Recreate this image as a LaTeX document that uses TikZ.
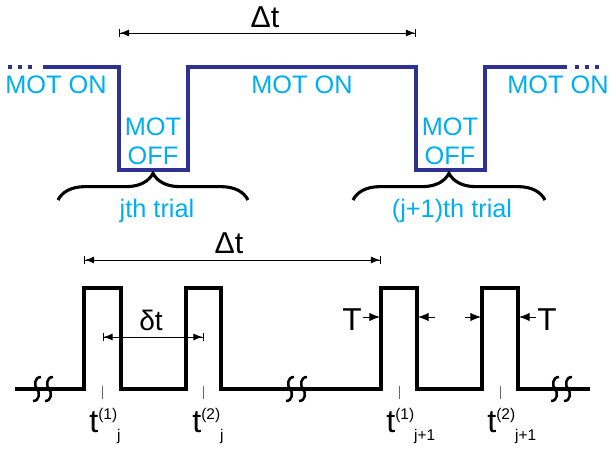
\documentclass[tikz,border=0pt]{standalone}
\usepackage{fontspec}
\setmainfont{Liberation Sans}
\usetikzlibrary{arrows.meta,decorations.pathreplacing}
\definecolor{motblue}{RGB}{46,49,146}
\definecolor{motcyan}{RGB}{0,174,239}
\newcommand{\supfont}{\fontsize{11}{13}\selectfont}
\tikzset{
  motline/.style={motblue,line width=2.2pt},
  motdots/.style={motblue,line width=2.2pt,dash pattern=on 2.8pt off 4.3pt},
  pulse/.style={black,line width=2.2pt},
  motlab/.style={text=motcyan,font=\fontsize{18}{20.6}\selectfont,inner sep=0pt,align=center},
  dimlab/.style={font=\fontsize{21.5}{24}\selectfont,inner sep=0pt,anchor=base},
  tlab/.style={font=\fontsize{23}{26}\selectfont,inner sep=0pt,anchor=base west},
  dimarr/.style={{Bar[width=6pt]Latex[length=6.5pt,width=5pt]}-{Latex[length=6.5pt,width=5pt]Bar[width=6pt]},line width=0.7pt},
  tarr/.style={-{Latex[length=7.5pt,width=6pt]},line width=0.7pt},
  trialbrace/.style={decorate,decoration={brace,amplitude=19pt},line width=2.2pt},
  tick/.style={black!60,line width=0.5pt},
  brk/.pic={\draw[line width=1.8pt] (4,-12) .. controls (-3,-12) and (-3,-3) .. (0,0)
    .. controls (3,3) and (3,12) .. (-4,12);}
}
\begin{document}
\begin{tikzpicture}[x=0.025cm,y=-0.025cm]
  \useasboundingbox (0,0) rectangle (611,448);
  % MOT on/off sequence
  \draw[motdots] (8,67) -- (37,67);
  \draw[motline] (43,67) -- (119,67) -- (119,170) -- (188,170) -- (188,67)
    -- (416,67) -- (416,170) -- (485,170) -- (485,67) -- (567,67);
  \draw[motdots] (575,67) -- (604,67);
  \node[motlab,anchor=base] (onA) at (56,93) {MOT ON};
  \node[motlab,anchor=base] (onB) at (302,93) {MOT ON};
  \node[motlab,anchor=base] (onC) at (558,93) {MOT ON};
  \node[motlab,anchor=north] (offA) at (153,118) {MOT\\OFF};
  \node[motlab,anchor=north] (offB) at (450,118) {MOT\\OFF};
  \draw[trialbrace] (58,200) -- (248,200);
  \draw[trialbrace] (353,200) -- (545,200);
  \node[motlab,anchor=base] (trialA) at (157,217) {jth trial};
  \node[motlab,anchor=base] (trialB) at (452,217) {(j+1)th trial};
  \coordinate (cycA) at (119,33);
  \coordinate (cycB) at (416,33);
  \draw[dimarr] (cycA) -- (cycB);
  \node[dimlab] (cycLab) at (265,27) {Δt};
  % pulse pairs
  \draw[pulse] (15,389) -- (84,389) -- (84,288) -- (121,288) -- (121,389)
    -- (186,389) -- (186,288) -- (221,288) -- (221,389) -- (381,389)
    -- (381,288) -- (417,288) -- (417,389) -- (482,389) -- (482,288)
    -- (518,288) -- (518,389) -- (590,389);
  \foreach \x in {37,49,290,303,555,568}
    \pic at (\x,389) {brk};
  \foreach \x in {102.5,203.5,399,500}
    \draw[tick] (\x,386) -- (\x,399);
  \coordinate (perA) at (84,260);
  \coordinate (perB) at (381,260);
  \draw[dimarr] (perA) -- (perB);
  \node[dimlab] (perLab) at (229,253) {Δt};
  \coordinate (pairA) at (102.5,337);
  \coordinate (pairB) at (203.5,337);
  \draw[dimarr] (pairA) -- (pairB);
  \node[dimlab,font=\fontsize{20}{22}\selectfont] (pairLab) at (151,330) {δt};
  % pulse widths
  \coordinate (wA1) at (363,317); \coordinate (wA2) at (380,317);
  \coordinate (wB1) at (435,317); \coordinate (wB2) at (418,317);
  \coordinate (wC1) at (465,317); \coordinate (wC2) at (481,317);
  \coordinate (wD1) at (536,317); \coordinate (wD2) at (519,317);
  \draw[tarr] (wA1) -- (wA2);
  \draw[tarr] (wB1) -- (wB2);
  \draw[tarr] (wC1) -- (wC2);
  \draw[tarr] (wD1) -- (wD2);
  \node[tlab,font=\fontsize{22.5}{26}\selectfont] (widA) at (342,330) {T};
  \node[tlab,font=\fontsize{22.5}{26}\selectfont] (widB) at (537,330) {T};
  \node[tlab] (tjA) at (89,432) {t\raisebox{9pt}{\supfont(1)}\raisebox{-6pt}{\supfont j}};
  \node[tlab] (tjB) at (192,432) {t\raisebox{9pt}{\supfont(2)}\raisebox{-6pt}{\supfont j}};
  \node[tlab] (tkA) at (386,432) {t\raisebox{9pt}{\supfont(1)}\raisebox{-6pt}{\supfont j+1}};
  \node[tlab] (tkB) at (487,432) {t\raisebox{9pt}{\supfont(2)}\raisebox{-6pt}{\supfont j+1}};
\end{tikzpicture}
\end{document}
